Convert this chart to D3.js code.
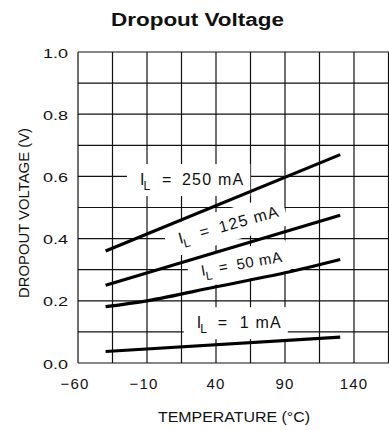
<!DOCTYPE html>
<html>
<head>
<meta charset="utf-8">
<script src="https://cdn.jsdelivr.net/npm/d3@7"></script>
<style>
  html, body { margin: 0; padding: 0; background: #fff; }
  svg { display: block; }
  text { font-family: "Liberation Sans", Arial, sans-serif; fill: #111; }
</style>
</head>
<body>
<div id="chart"></div>
<script>
// ---- data ----
const xTicks = [-60, -10, 40, 90, 140];
const yTicks = [0.0, 0.2, 0.4, 0.6, 0.8, 1.0];
const xTickLabels = ["\u221260", "\u221210", "40", "90", "140"];
const yTickLabels = ["0.0", "0.2", "0.4", "0.6", "0.8", "1.0"];

const temps250 = [-40, 130];
const volts250 = [0.36, 0.67];
const temps125 = [-40, 130];
const volts125 = [0.25, 0.475];
const temps50 = [-40, -10, 40, 90, 130];
const volts50 = [0.181, 0.200, 0.245, 0.290, 0.333];
const temps1 = [-40, 130];
const volts1 = [0.037, 0.083];

const seriesNames = ["250", "125", "50", "1"];

// ---- layout ----
const W = 389, H = 430;
const svg = d3.select("#chart").append("svg").attr("width", W).attr("height", H);

const x = d3.scaleLinear().domain([-60, 165]).range([78, 388.5]);
const y = d3.scaleLinear().domain([0, 1]).range([363, 52]);

// grid
const gx = d3.range(-60, 165.1, 25);
const gy = d3.range(0, 11).map(d => d / 10);
const grid = svg.append("g").attr("stroke", "#111").attr("stroke-width", 1.2);
grid.selectAll("line.v").data(gx).join("line")
  .attr("x1", d => x(d)).attr("x2", d => x(d))
  .attr("y1", y(0)).attr("y2", y(1));
grid.selectAll("line.h").data(gy).join("line")
  .attr("y1", d => y(d)).attr("y2", d => y(d))
  .attr("x1", x(-60)).attr("x2", x(165));

// layers
const boxLayer = svg.append("g");
const lineLayer = svg.append("g");
const textLayer = svg.append("g");

// labels config (anchor positions in data coordinates)
const labelCfg = [
  { name: seriesNames[0], t: -15.1, v: 0.572, rot: 0,     fs: 16, eq: 22, val: 42, ls: 1.2 },
  { name: seriesNames[1], t: 13.9,  v: 0.383, rot: -15.5, fs: 16, eq: 22, val: 42, ls: 1.2 },
  { name: seriesNames[2], t: 29.9,  v: 0.280, rot: -10,   fs: 15, eq: 18, val: 36, ls: 0.6 },
  { name: seriesNames[3], t: 26.0,  v: 0.112, rot: 0,     fs: 16, eq: 21, val: 43, ls: 1.2 }
];

labelCfg.forEach(c => {
  const tf = `translate(${x(c.t)},${y(c.v)}) rotate(${c.rot})`;
  const box = boxLayer.append("rect").attr("fill", "#fff").attr("transform", tf);
  const tg = textLayer.append("g").attr("transform", tf);
  tg.append("text").attr("x", 0).attr("y", 0).attr("font-size", c.fs).text("I");
  tg.append("text").attr("x", 3.5).attr("y", 5).attr("font-size", 12).text("L");
  tg.append("text").attr("x", c.eq).attr("y", 0).attr("font-size", c.fs).text("=");
  const vt = tg.append("text").attr("x", c.val).attr("y", 0).attr("font-size", c.fs)
    .attr("letter-spacing", c.ls).text(c.name + " mA");
  const wEnd = c.val + vt.node().getComputedTextLength();
  box.attr("x", -13).attr("y", -21).attr("width", wEnd + 19).attr("height", 32);
});

// data lines
const line = d3.line().x(d => x(d[0])).y(d => y(d[1])).curve(d3.curveMonotoneX);
const series = [
  d3.zip(temps250, volts250),
  d3.zip(temps125, volts125),
  d3.zip(temps50, volts50),
  d3.zip(temps1, volts1)
];
lineLayer.selectAll("path").data(series).join("path")
  .attr("d", line).attr("fill", "none").attr("stroke", "#000")
  .attr("stroke-width", 3.2);

// tick labels
svg.append("g").selectAll("text").data(yTicks).join("text")
  .attr("x", 68).attr("y", d => y(d) + 5.5)
  .attr("text-anchor", "end").attr("font-size", 13)
  .attr("textLength", 25).attr("lengthAdjust", "spacingAndGlyphs")
  .text((d, i) => yTickLabels[i]);

svg.append("g").selectAll("text").data(xTicks).join("text")
  .attr("x", (d, i) => x(d) - (i < 2 ? 3 : 0)).attr("y", 389)
  .attr("text-anchor", "middle").attr("font-size", 15)
  .attr("letter-spacing", 1.2)
  .text((d, i) => xTickLabels[i]);

// axis titles
svg.append("text").attr("x", 234).attr("y", 421.5)
  .attr("text-anchor", "middle").attr("font-size", 15.5)
  .attr("textLength", 152).attr("lengthAdjust", "spacingAndGlyphs")
  .text("TEMPERATURE (\u00B0C)");

svg.append("text")
  .attr("transform", "translate(28.5,213) rotate(-90)")
  .attr("text-anchor", "middle").attr("font-size", 15.5)
  .attr("textLength", 170).attr("lengthAdjust", "spacingAndGlyphs")
  .text("DROPOUT VOLTAGE (V)");

// title
svg.append("text").attr("x", 197.5).attr("y", 25.5)
  .attr("text-anchor", "middle").attr("font-size", 18).attr("font-weight", "bold")
  .attr("textLength", 173).attr("lengthAdjust", "spacingAndGlyphs")
  .attr("fill", "#222")
  .text("Dropout Voltage");
</script>
</body>
</html>
